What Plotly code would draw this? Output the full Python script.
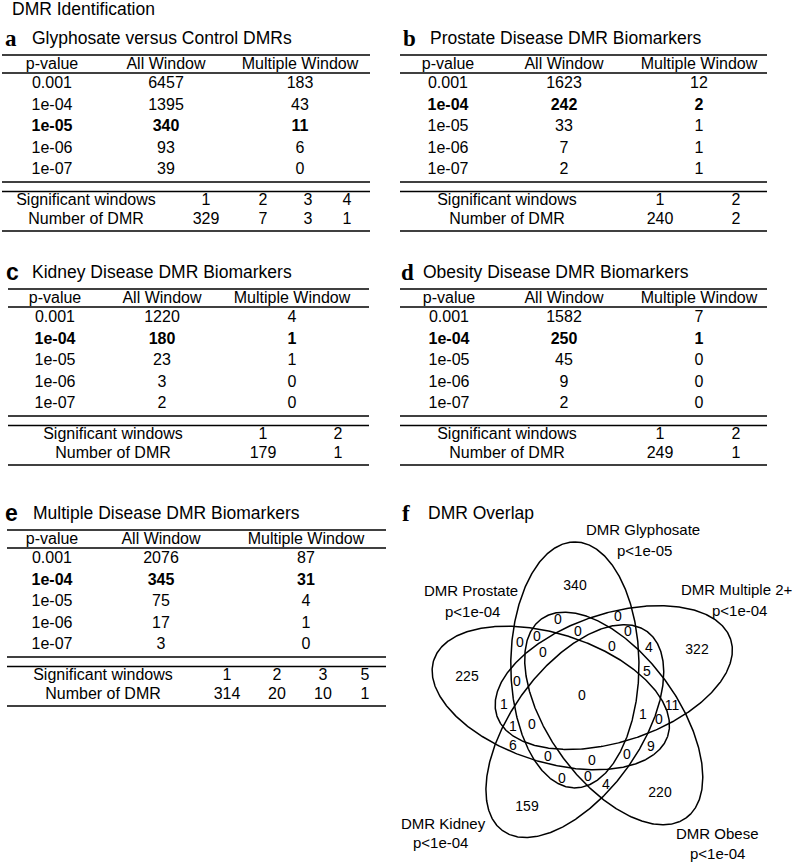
import numpy as np
import plotly.graph_objects as go

# ---------------- data ----------------
pvalues = ["0.001", "1e-04", "1e-05", "1e-06", "1e-07"]
header = ["p-value", "All Window", "Multiple Window"]

glyph_all = [6457, 1395, 340, 93, 39]
glyph_multi = [183, 43, 11, 6, 0]
glyph_sig_windows = [1, 2, 3, 4]
glyph_num_dmr = [329, 7, 3, 1]

prostate_all = [1623, 242, 33, 7, 2]
prostate_multi = [12, 2, 1, 1, 1]
prostate_sig_windows = [1, 2]
prostate_num_dmr = [240, 2]

kidney_all = [1220, 180, 23, 3, 2]
kidney_multi = [4, 1, 1, 0, 0]
kidney_sig_windows = [1, 2]
kidney_num_dmr = [179, 1]

obesity_all = [1582, 250, 45, 9, 2]
obesity_multi = [7, 1, 0, 0, 0]
obesity_sig_windows = [1, 2]
obesity_num_dmr = [249, 1]

multiple_all = [2076, 345, 75, 17, 3]
multiple_multi = [87, 31, 4, 1, 0]
multiple_sig_windows = [1, 2, 3, 5]
multiple_num_dmr = [314, 20, 10, 1]

venn_sets = ["DMR Glyphosate", "DMR Multiple 2+", "DMR Obese", "DMR Kidney", "DMR Prostate"]
venn_thresholds = ["p<1e-05", "p<1e-04", "p<1e-04", "p<1e-04", "p<1e-04"]
venn_counts = [340, 322, 220, 159, 225, 0,
               0, 0, 0, 0, 0, 0, 0, 0, 4, 5,
               0, 1, 11, 1, 0, 1, 0, 6, 9,
               0, 0, 0, 0, 0, 4]

# ---------------- layout helpers (positions in page pixels) ----------------
FONT = "Liberation Sans, Arial, sans-serif"
SERIF = "Liberation Serif, Times New Roman, serif"

fig = go.Figure()
shapes = []
annotations = []


def hline(x0, x1, y, w=1.7):
    shapes.append(dict(type="line", xref="x", yref="y", x0=x0, x1=x1, y0=y, y1=y,
                       line=dict(color="black", width=w)))


def texts(xs, ys, labels, size=16):
    fig.add_trace(go.Scatter(x=xs, y=ys, text=labels, mode="text",
                             textposition="middle center",
                             textfont=dict(family=FONT, size=size, color="black"),
                             hoverinfo="skip", showlegend=False))


def note(x, y, text, size, family=FONT, anchor="left"):
    annotations.append(dict(x=x, y=y, xref="x", yref="y", text=text, showarrow=False,
                            xanchor=anchor, yanchor="middle", borderpad=0,
                            font=dict(family=family, size=size, color="black")))


def panel(letter, letter_family, letter_x, title, title_x, T, lx0, lx1, cols,
          low_x, low_cols, all_vals, multi_vals, bold_row, sig, num):
    note(letter_x, T, "<b>%s</b>" % letter, 23, letter_family)
    note(title_x, T, title, 17.5)
    hline(lx0, lx1, T + 17)
    texts(cols, [T + 27] * 3, header)
    hline(lx0, lx1, T + 35)
    rows_y = [T + 46 + 21.5 * k for k in range(len(pvalues))]
    for k, p in enumerate(pvalues):
        row = [p, str(all_vals[k]), str(multi_vals[k])]
        if k == bold_row:
            row = ["<b>%s</b>" % r for r in row]
        texts(cols, [rows_y[k]] * 3, row)
    hline(lx0, lx1, T + 144)
    hline(lx0, lx1, T + 153.5)
    texts([low_x] + low_cols, [T + 163] * (len(sig) + 1),
          ["Significant windows"] + [str(s) for s in sig])
    texts([low_x] + low_cols, [T + 182] * (len(num) + 1),
          ["Number of DMR"] + [str(n) for n in num])
    hline(lx0, lx1, T + 193)


note(11, 9, "DMR Identification", 17.5)

panel("a", SERIF, 4, "Glyphosate versus Control DMRs", 31, 38, 2, 370,
      [52, 166, 300], 86, [206, 263, 308, 347],
      glyph_all, glyph_multi, 2, glyph_sig_windows, glyph_num_dmr)
panel("b", SERIF, 402, "Prostate Disease DMR Biomarkers", 429, 38, 400, 767,
      [448, 564, 699], 507, [660, 736],
      prostate_all, prostate_multi, 1, prostate_sig_windows, prostate_num_dmr)
panel("c", FONT, 5, "Kidney Disease DMR Biomarkers", 31, 272, 8, 369,
      [55, 162, 292], 113, [263, 338],
      kidney_all, kidney_multi, 1, kidney_sig_windows, kidney_num_dmr)
panel("d", SERIF, 400, "Obesity Disease DMR Biomarkers", 422, 272, 400, 767,
      [449, 564, 699], 507, [660, 736],
      obesity_all, obesity_multi, 1, obesity_sig_windows, obesity_num_dmr)
panel("e", FONT, 4, "Multiple Disease DMR Biomarkers", 32, 513, 7, 386,
      [52, 161, 306], 103, [227, 277, 323, 365],
      multiple_all, multiple_multi, 1, multiple_sig_windows, multiple_num_dmr)

# ---------------- panel f : five-set Venn ----------------
note(401, 513, "<b>f</b>", 23, SERIF)
note(427, 513, "DMR Overlap", 17.5)

# regular five-ellipse geometry (page pixels / degrees)
venn_cx, venn_cy = 585.6, 698.0
start_angle, centre_offset, offset_turn = 90.07, 34.8, 17.9
semi_minor, semi_major = 64.1, 123.0
t = np.linspace(0, 2 * np.pi, 600)
for k in range(5):
    psi = np.radians(start_angle - 72 * k)
    phi = psi + np.radians(offset_turn)
    ecx = venn_cx + centre_offset * np.cos(phi)
    ecy = venn_cy - centre_offset * np.sin(phi)
    ux, uy = np.cos(psi), -np.sin(psi)
    vx, vy = -uy, ux
    xs = ecx + semi_major * np.cos(t) * ux + semi_minor * np.sin(t) * vx
    ys = ecy + semi_major * np.cos(t) * uy + semi_minor * np.sin(t) * vy
    fig.add_trace(go.Scatter(x=xs, y=ys, mode="lines",
                             line=dict(color="black", width=1.5),
                             hoverinfo="skip", showlegend=False))

venn_label_xy = [(575, 586), (697, 650), (660, 793), (527, 807), (467, 677), (582, 696),
                 (558, 620), (618, 617), (578, 632), (628, 632), (520, 643), (537, 637),
                 (543, 653), (612, 647), (649, 648), (647, 672),
                 (517, 682), (504, 705), (672, 706), (643, 715), (659, 720), (513, 727),
                 (532, 725), (513, 746), (651, 747),
                 (548, 757), (592, 761), (627, 755), (562, 779), (588, 777), (606, 785)]
texts([p[0] for p in venn_label_xy], [p[1] for p in venn_label_xy],
      [str(c) for c in venn_counts], size=14)

set_label_xy = [(643, 529, 644, 550), (737, 589, 739, 610), (717, 833, 717, 853),
                (443, 823, 440, 842), (471, 590, 472, 611)]
for name, thr, (x1, y1, x2, y2) in zip(venn_sets, venn_thresholds, set_label_xy):
    note(x1, y1, name, 15, anchor="center")
    note(x2, y2, thr.replace("<", "&lt;"), 15, anchor="center")

fig.update_layout(
    width=800, height=864,
    margin=dict(l=0, r=0, t=0, b=0),
    paper_bgcolor="white", plot_bgcolor="white",
    xaxis=dict(range=[0, 800], visible=False, fixedrange=True),
    yaxis=dict(range=[864, 0], visible=False, fixedrange=True),
    shapes=shapes, annotations=annotations, showlegend=False,
)
fig.write_html("out.html", config={"displayModeBar": False},
               post_script="document.body.style.margin='0px';"
                           "document.body.style.overflow='hidden';")
